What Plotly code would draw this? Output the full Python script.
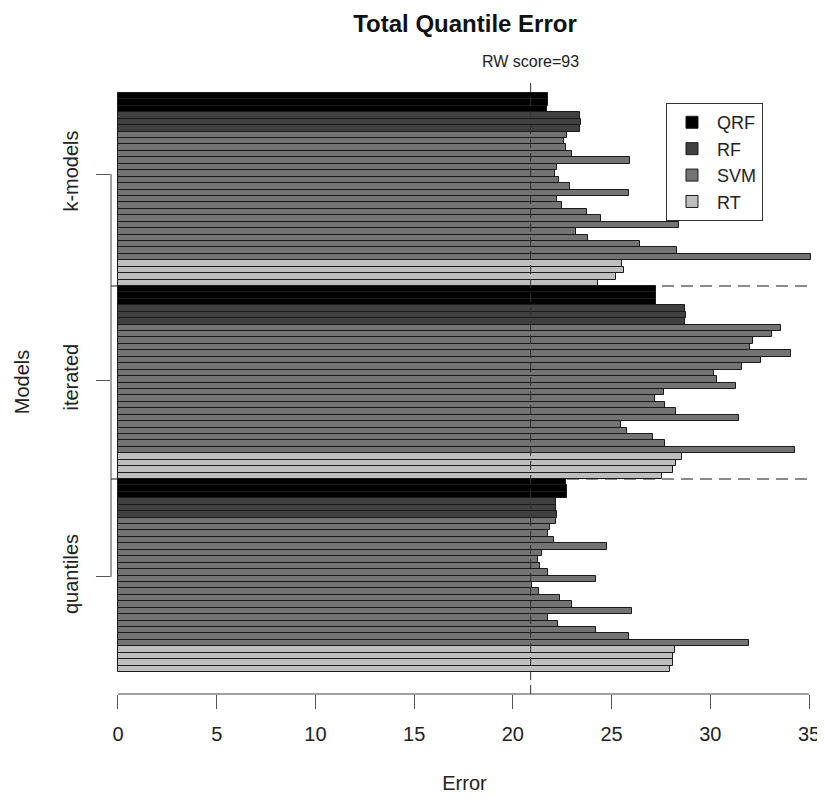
import plotly.graph_objects as go

# ---------------- data (each group listed top-to-bottom) ----------------
groups = ["quantiles", "iterated", "k-models"]          # bottom -> top
methods = ["QRF", "RF", "SVM", "RT"]
colors = {"QRF": "#000000", "RF": "#404040", "SVM": "#737373", "RT": "#BEBEBE"}

kmodels_qrf = [21.77, 21.77, 21.75]
kmodels_rf = [23.41, 23.43, 23.38]
kmodels_svm = [22.75, 22.59, 22.71, 22.99, 25.93, 22.24, 22.12, 22.35, 22.89, 25.86,
               22.24, 22.47, 23.76, 24.46, 28.40, 23.22, 23.83, 26.45, 28.32, 35.10]
kmodels_rt = [25.51, 25.63, 25.23, 24.30]

iterated_qrf = [27.27, 27.27, 27.25]
iterated_rf = [28.74, 28.76, 28.72]
iterated_svm = [33.58, 33.11, 32.18, 32.01, 34.09, 32.57, 31.59, 30.19, 30.35, 31.29,
                27.66, 27.20, 27.73, 28.27, 31.47, 25.46, 25.79, 27.08, 27.73, 34.28]
iterated_rt = [28.55, 28.27, 28.09, 27.57]

quantiles_qrf = [22.70, 22.75, 22.72]
quantiles_rf = [22.19, 22.20, 22.22]
quantiles_svm = [22.19, 21.89, 21.77, 22.08, 24.76, 21.49, 21.26, 21.35, 21.77, 24.23,
                 20.95, 21.30, 22.40, 22.99, 26.03, 21.77, 22.29, 24.23, 25.86, 31.94]
quantiles_rt = [28.20, 28.10, 28.10, 27.97]

rw_score_error = 20.9
rw_label = "RW score=93"
x_ticks = [0, 5, 10, 15, 20, 25, 30, 35]
group_tick_pos = [14.27, 44.86, 76.91]

data = {
    "quantiles": {"QRF": quantiles_qrf, "RF": quantiles_rf, "SVM": quantiles_svm, "RT": quantiles_rt},
    "iterated": {"QRF": iterated_qrf, "RF": iterated_rf, "SVM": iterated_svm, "RT": iterated_rt},
    "k-models": {"QRF": kmodels_qrf, "RF": kmodels_rf, "SVM": kmodels_svm, "RT": kmodels_rt},
}

# ---------------- build traces ----------------
FONT = "Liberation Sans, Arial, Helvetica, sans-serif"
fig = go.Figure()

group_size = sum(len(v) for v in data["quantiles"].values())
traces = {m: {"x": [], "y": []} for m in methods}
for gi, g in enumerate(groups):
    j = 0
    for m in methods:
        for v in data[g][m]:
            traces[m]["x"].append(v)
            traces[m]["y"].append(gi * group_size + (group_size - 1 - j))
            j += 1

for m in methods:
    fig.add_trace(go.Bar(
        x=traces[m]["x"], y=traces[m]["y"], orientation="h", width=1,
        name=m, marker=dict(color=colors[m], line=dict(color="#1a1a1a", width=1)),
    ))

# group separators (dashed, under bars)
for gi in range(1, len(groups)):
    yb = gi * group_size - 0.5
    fig.add_shape(type="line", xref="x", yref="y", x0=-0.354, x1=35, y0=yb, y1=yb,
                  line=dict(color="#8a8a8a", width=2, dash="12px,7px"), layer="below")

# RW score vertical line
fig.add_shape(type="line", xref="x", yref="paper", x0=rw_score_error, x1=rw_score_error,
              y0=0, y1=0.985, line=dict(color="#333333", width=1, dash="9px,5px"), layer="above")

# custom axis lines (R style)
fig.add_shape(type="line", xref="x", yref="paper", x0=0, x1=35, y0=0, y1=0,
              line=dict(color="#444444", width=1))
fig.add_shape(type="line", xref="paper", yref="y", x0=0, x1=0,
              y0=group_tick_pos[0], y1=group_tick_pos[-1], line=dict(color="#444444", width=1))

fig.add_annotation(x=rw_score_error, y=1.0, xref="x", yref="paper", text=rw_label,
                   showarrow=False, yanchor="bottom", yshift=-2,
                   font=dict(family=FONT, size=16, color="#222222"))

fig.update_layout(
    width=817, height=792,
    paper_bgcolor="white", plot_bgcolor="white",
    margin=dict(l=103, r=5, t=62, b=106),
    barmode="overlay", bargap=0,
    title=dict(text="<b>Total Quantile Error</b>", x=0.5594, xanchor="center",
               y=0.991, yanchor="top", pad=dict(t=0, b=0),
               font=dict(family=FONT, size=24, color="#111111")),
    font=dict(family=FONT, size=20, color="#222222"),
    legend=dict(x=0.785, y=0.947, xanchor="left", yanchor="top",
                bgcolor="white", bordercolor="#333333", borderwidth=1,
                itemwidth=40, entrywidth=84,
                font=dict(family=FONT, size=18, color="#222222"), traceorder="normal"),
    showlegend=True,
)
fig.update_xaxes(range=[-0.354, 35.455], tickvals=x_ticks, ticks="outside", ticklen=14,
                 tickcolor="#555555", showline=False, showgrid=False, zeroline=False,
                 ticklabelstandoff=8,
                 title=dict(text="Error", standoff=31, font=dict(family=FONT, size=20)))
fig.update_yaxes(range=[-3.92, 93.08], tickvals=group_tick_pos, ticktext=groups,
                 tickangle=-90, ticks="outside", ticklen=14, tickcolor="#555555",
                 showline=False, showgrid=False, zeroline=False, ticklabelstandoff=10,
                 title=dict(text="Models", standoff=25, font=dict(family=FONT, size=20)))

fig.write_html("out.html")
